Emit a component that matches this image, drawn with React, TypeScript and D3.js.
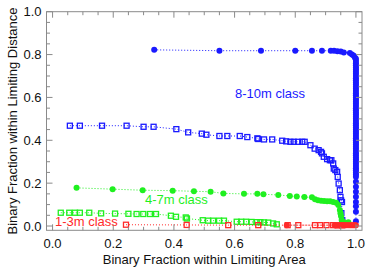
import React from "react";
import * as d3 from "d3";

const W = 374;
const H = 277;

// 8-10m class, distance (filled circles)
const blueDistX = [0.335, 0.55, 0.687, 0.80, 0.855, 0.888, 0.917, 0.928, 0.939, 0.95, 0.96, 0.98, 0.987, 0.993, 0.997,
  1, 1, 1, 1, 1, 1, 1, 1, 1, 1, 1, 1, 1, 1, 1, 1, 1, 1, 1, 1, 1, 1, 1, 1, 1, 1, 1, 1, 1, 1, 1, 1, 1, 1, 1, 1, 1, 1, 1, 1, 1, 1, 1, 1, 1, 1, 1, 1, 1, 1, 1, 1, 1, 1, 1, 1, 1, 1, 1, 1, 1, 1, 1, 1];
const blueDistY = [0.822, 0.818, 0.818, 0.818, 0.818, 0.818, 0.818, 0.818, 0.816, 0.814, 0.81, 0.807, 0.80, 0.794, 0.785,
  0.78, 0.77, 0.76, 0.75, 0.74, 0.73, 0.72, 0.71, 0.70, 0.69, 0.68, 0.67, 0.66, 0.65, 0.64, 0.63, 0.62, 0.61, 0.60,
  0.59, 0.58, 0.57, 0.56, 0.55, 0.54, 0.53, 0.52, 0.51, 0.50, 0.49, 0.48, 0.47, 0.46, 0.45, 0.44, 0.43, 0.42, 0.41,
  0.40, 0.39, 0.38, 0.37, 0.36, 0.35, 0.34, 0.33, 0.32, 0.31, 0.30, 0.29, 0.28, 0.27, 0.26, 0.25, 0.24, 0.23,
  0.206, 0.183, 0.16, 0.136, 0.112, 0.092, 0.066, 0.022];

// 8-10m class, area (open squares)
const blueAreaX = [0.057, 0.090, 0.163, 0.244, 0.30, 0.333, 0.408, 0.447, 0.492, 0.507, 0.55, 0.576, 0.617, 0.642, 0.675,
  0.678, 0.697, 0.724, 0.757, 0.770, 0.784, 0.795, 0.809, 0.823, 0.831, 0.850, 0.864, 0.877, 0.885, 0.888, 0.894,
  0.905, 0.914, 0.919, 0.925, 0.927, 0.932, 0.938, 0.940, 0.943, 0.947, 0.949, 0.951, 0.954, 0.952, 0.955];
const blueAreaY = [0.468, 0.468, 0.468, 0.468, 0.463, 0.463, 0.452, 0.437, 0.431, 0.426, 0.420, 0.420, 0.420, 0.415, 0.409,
  0.406, 0.404, 0.404, 0.398, 0.395, 0.393, 0.393, 0.393, 0.393, 0.393, 0.377, 0.361, 0.354, 0.346, 0.339, 0.323,
  0.312, 0.307, 0.307, 0.292, 0.268, 0.261, 0.253, 0.229, 0.198, 0.167, 0.136, 0.120, 0.112, 0.060, 0.027];

// 4-7m class, distance (filled circles)
const greenDistX = [0.079, 0.198, 0.297, 0.396, 0.466, 0.521, 0.563, 0.631, 0.675, 0.695, 0.744, 0.782, 0.805, 0.83,
  0.855, 0.865, 0.875, 0.885, 0.895, 0.905, 0.915, 0.925, 0.935, 0.942, 0.947, 0.949, 0.951, 0.953, 0.958, 0.975];
const greenDistY = [0.178, 0.172, 0.167, 0.165, 0.162, 0.160, 0.152, 0.150, 0.150, 0.148, 0.145, 0.140, 0.138, 0.135,
  0.134, 0.125, 0.120, 0.118, 0.117, 0.116, 0.115, 0.112, 0.108, 0.098, 0.075, 0.06, 0.045, 0.028, 0.02, 0.018];

// 4-7m class, area (open squares)
const greenAreaX = [0.027, 0.055, 0.074, 0.09, 0.121, 0.16, 0.206, 0.25, 0.277, 0.299, 0.321, 0.341, 0.39, 0.407, 0.439,
  0.443, 0.495, 0.513, 0.529, 0.549, 0.565, 0.607, 0.622, 0.638, 0.656, 0.673, 0.685, 0.697, 0.711, 0.727, 0.739];
const greenAreaY = [0.062, 0.062, 0.062, 0.062, 0.062, 0.059, 0.058, 0.057, 0.056, 0.056, 0.056, 0.056, 0.048, 0.043, 0.040,
  0.035, 0.027, 0.025, 0.025, 0.025, 0.025, 0.020, 0.020, 0.020, 0.019, 0.018, 0.018, 0.017, 0.016, 0.012, 0.008];

// 1-3m class, area (open squares)
const redAreaX = [0.242, 0.442, 0.579, 0.678, 0.775, 0.81, 0.865, 0.882, 0.903, 0.925, 0.94, 0.955];
const redAreaY = [0.006, 0.005, 0.004, 0.004, 0.004, 0.004, 0.004, 0.004, 0.004, 0.004, 0.003, 0.003];

// 1-3m class, distance (filled circles)
const redDistX = [0.772, 0.93, 0.935, 0.94, 0.945, 0.95, 0.955, 0.96, 0.965, 0.97, 0.975, 0.98, 0.984, 0.988, 0.992, 0.996, 1.0];
const redDistY = [0.004, 0.004, 0.004, 0.004, 0.004, 0.003, 0.003, 0.003, 0.003, 0.003, 0.003, 0.003, 0.003, 0.003, 0.003, 0.003, 0.003];

const majorTicks = [0, 0.2, 0.4, 0.6, 0.8, 1.0];
const minorTicks = [0.05, 0.1, 0.15, 0.25, 0.3, 0.35, 0.45, 0.5, 0.55, 0.65, 0.7, 0.75, 0.85, 0.9, 0.95];

const classLabels = ["8-10m class", "4-7m class", "1-3m class"];

const BLUE = "#1a1aff";
const GREEN = "#1ff01f";
const RED = "#ff2a2a";
const FONT = "'Liberation Sans', Arial, Helvetica, sans-serif";

const x = d3.scaleLinear().domain([-0.02, 1.02]).range([46.5, 362]);
const y = d3.scaleLinear().domain([-0.02, 1.0]).range([230.3, 11.7]);

function zip(xs: number[], ys: number[]): [number, number][] {
  return xs.map((v, i) => [v, ys[i]]);
}

const line = d3
  .line<[number, number]>()
  .x((d) => x(d[0]))
  .y((d) => y(d[1]));

function Series({ xs, ys, color, kind }: { xs: number[]; ys: number[]; color: string; kind: "circle" | "square" }) {
  const pts = zip(xs, ys);
  return (
    <g>
      <path d={line(pts) || ""} fill="none" stroke={color} strokeWidth={1} strokeDasharray="1,2" />
      {pts.map((p, i) =>
        kind === "circle" ? (
          <circle key={i} cx={x(p[0])} cy={y(p[1])} r={3} fill={color} />
        ) : (
          <rect key={i} x={x(p[0]) - 2.5} y={y(p[1]) - 2.5} width={5} height={5} fill="none" stroke={color} strokeWidth={1.3} />
        )
      )}
    </g>
  );
}

export default function App() {
  const [x0, x1] = x.range();
  const [yb, yt] = y.range();
  const frame = "#8a8a8a";
  const maj = 6;
  const min = 3.5;
  return (
    <svg width={W} height={H} style={{ position: "absolute", left: 0, top: 0, background: "white" }} fontFamily={FONT}>
      <rect x={0} y={0} width={W} height={H} fill="white" />
      <Series xs={blueDistX} ys={blueDistY} color={BLUE} kind="circle" />
      <Series xs={blueAreaX} ys={blueAreaY} color={BLUE} kind="square" />
      <Series xs={greenAreaX} ys={greenAreaY} color={GREEN} kind="square" />
      <Series xs={greenDistX} ys={greenDistY} color={GREEN} kind="circle" />
      <Series xs={redAreaX} ys={redAreaY} color={RED} kind="square" />
      <Series xs={redDistX} ys={redDistY} color={RED} kind="circle" />

      <rect x={x0} y={yt} width={x1 - x0} height={yb - yt} fill="none" stroke={frame} strokeWidth={1} />
      {majorTicks.concat(minorTicks).map((t, i) => {
        const L = majorTicks.includes(t) ? maj : min;
        return (
          <g key={i} stroke={frame} strokeWidth={1}>
            <line x1={x(t)} x2={x(t)} y1={yb} y2={yb - L} />
            <line x1={x(t)} x2={x(t)} y1={yt} y2={yt + L} />
            <line x1={x0} x2={x0 + L} y1={y(t)} y2={y(t)} />
            <line x1={x1} x2={x1 - L} y1={y(t)} y2={y(t)} />
          </g>
        );
      })}
      {majorTicks.map((t, i) => (
        <text key={"xl" + i} x={x(t)} y={248} textAnchor="middle" fontSize={13} fill="#111">
          {t.toFixed(1)}
        </text>
      ))}
      {majorTicks.map((t, i) => (
        <text key={"yl" + i} x={41.5} y={y(t) + 4.6} textAnchor="end" fontSize={13} fill="#111">
          {t.toFixed(1)}
        </text>
      ))}
      <text x={(x0 + x1) / 2} y={263.5} textAnchor="middle" fontSize={13} fill="#111">
        Binary Fraction within Limiting Area
      </text>
      <text transform={`translate(17, ${(yt + yb) / 2}) rotate(-90)`} textAnchor="middle" fontSize={13} fill="#111">
        Binary Fraction within Limiting Distance
      </text>
      <text x={235} y={98} fontSize={13} fill={BLUE}>{classLabels[0]}</text>
      <text x={145} y={204} fontSize={13} fill={GREEN}>{classLabels[1]}</text>
      <text x={55} y={226} fontSize={13} fill={RED}>{classLabels[2]}</text>
    </svg>
  );
}
